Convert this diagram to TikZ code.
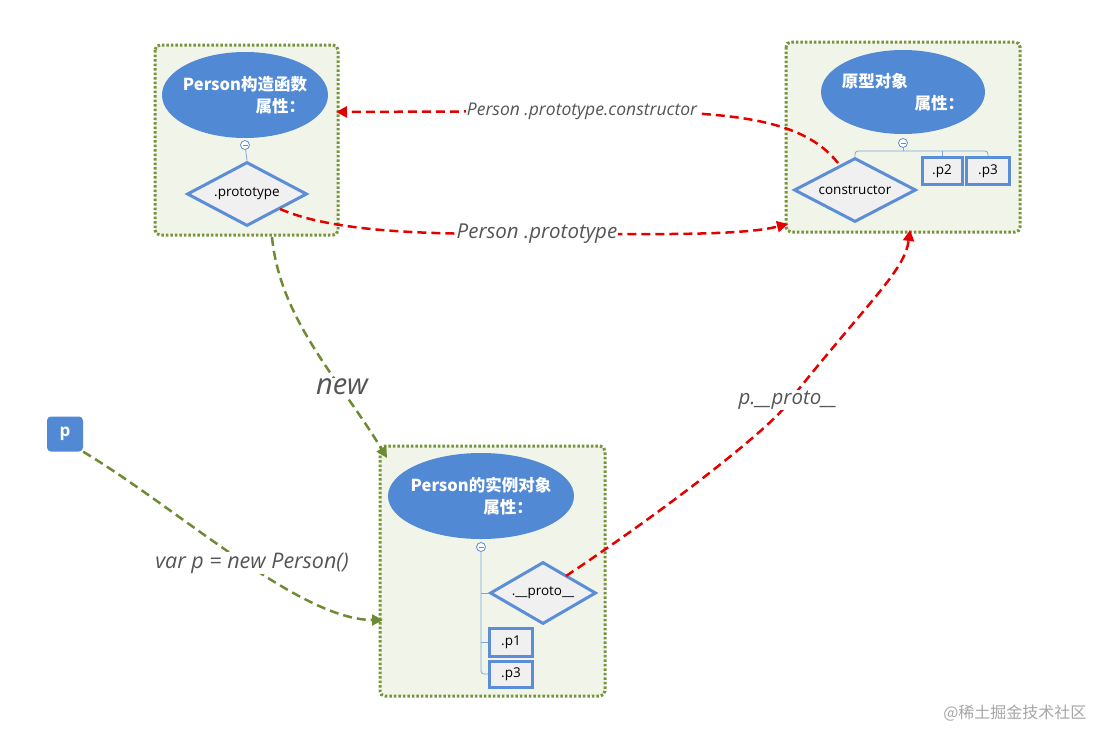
\documentclass[tikz,border=0pt]{standalone}
\usepackage{fontspec}
\setmainfont{Open Sans}
\newfontfamily\cjk{Noto Sans CJK SC}
\usetikzlibrary{shapes.geometric,arrows.meta,calc}
\definecolor{eblue}{HTML}{5189D5}
\definecolor{dblue}{HTML}{5B8ED6}
\definecolor{boxfill}{HTML}{F1F5E9}
\definecolor{olive}{HTML}{77933C}
\definecolor{arrowgreen}{HTML}{6E8A33}
\definecolor{lblgray}{HTML}{555555}
\tikzset{
 grp/.style={draw=olive,line width=3pt,dash pattern=on 2.5pt off 2pt,fill=boxfill,rounded corners=5pt},
 ell/.style={ellipse,fill=eblue,draw=none,text=white,font=\cjk\bfseries\fontsize{16.5}{22}\selectfont,align=left,inner sep=-14pt},
 dia/.style={diamond,draw=dblue,line width=3pt,fill=black!6,aspect=1.9,inner sep=1pt,font=\fontsize{13.5}{16}\selectfont},
 leaf/.style={draw=dblue,line width=3pt,fill=black!6,font=\fontsize{13.5}{16}\selectfont},
 tree/.style={draw=dblue!80,line width=0.8pt},
 minus/.style={circle,draw=dblue,fill=white,inner sep=0pt,minimum size=9pt,line width=0.8pt},
 red/.style={draw=red!90!black,line width=2.5pt,dash pattern=on 9pt off 5pt,-{Triangle[length=11pt,width=11pt]}},
 grn/.style={draw=arrowgreen,line width=2.5pt,dash pattern=on 9pt off 5pt,-{Triangle[length=11pt,width=11pt]}},
 lbl/.style={text=lblgray,font=\itshape\fontsize{17.5}{20}\selectfont,fill=white,inner sep=1pt}
}
\begin{document}
\begin{tikzpicture}[x=1pt,y=-1pt]
\useasboundingbox (0,0) rectangle (1106,744);
% boxes
\draw[grp] (155,45) rectangle (338,235);
\draw[grp] (786,42) rectangle (1020,232);
\draw[grp] (380,446) rectangle (605,696);
% box1
\node[ell,minimum width=166pt,minimum height=86pt] (e1) at (245,95) {Person构造函数\\\hspace*{4.4em}属性：};
\node[dia,minimum width=120pt,minimum height=64pt] (proto) at (247,194) {.prototype};
\node[minus] (m1) at (245,145) {};
\draw[tree] (m1) -- (proto.north);
\draw[dblue,line width=0.8pt] ($(m1)+(-2.5,0)$) -- ($(m1)+(2.5,0)$);
% box2
\node[ell,minimum width=164pt,minimum height=84pt] (e2) at (903,92) {原型对象\\\hspace*{4.4em}属性：};
\node[minus] (m2) at (903,143) {};
\draw[dblue,line width=0.8pt] ($(m2)+(-2.5,0)$) -- ($(m2)+(2.5,0)$);
\node[dia,minimum width=122pt,minimum height=64pt] (cons) at (855,190) {constructor};
\node[leaf,minimum width=40pt,minimum height=27pt] (p2) at (942,171) {.p2};
\node[leaf,minimum width=43pt,minimum height=27pt] (p3a) at (988,171) {.p3};
\draw[tree] (m2) -- (903,151);
\draw[tree,rounded corners=3pt] (cons.north) -- (855,151) -- (988,151) -- (p3a.north);
\draw[tree,rounded corners=3pt] (942,151) -- (p2.north);
% box3
\node[ell,minimum width=186pt,minimum height=86pt] (e3) at (481,496) {Person的实例对象\\\hspace*{4.4em}属性：};
\node[dia,minimum width=106pt,minimum height=62pt] (pp) at (543,593) {.\_\_proto\_\_};
\node[leaf,minimum width=43pt,minimum height=28pt] (p1) at (511,642) {.p1};
\node[leaf,minimum width=43pt,minimum height=26pt] (p3b) at (511,674) {.p3};
\draw[tree,rounded corners=3pt] (481,551) -- (481,674) -- (p3b.west);
\draw[tree,rounded corners=3pt] (481,593) -- (pp.west);
\draw[tree,rounded corners=3pt] (481,642) -- (p1.west);
\node[minus] (m3) at (481,547) {};
\draw[dblue,line width=0.8pt] ($(m3)+(-2.5,0)$) -- ($(m3)+(2.5,0)$);
% p node
\node[fill=eblue,rounded corners=4pt,minimum width=36pt,minimum height=35pt,text=white,font=\bfseries\fontsize{17}{19}\selectfont] (p) at (65,434) {p};
% arrows
\coordinate (c1) at (336,112);
\draw[red] (838,163) .. controls (800,115) and (720,111) .. (582,111) -- (c1);
\node[lbl] at (582,111) {Person .prototype.constructor};
\coordinate (c2) at (788,224);
\draw[red] (280,209) .. controls (340,235) and (450,234) .. (537,234) .. controls (650,234) and (740,236) .. (c2);
\node[lbl,font=\itshape\fontsize{20.5}{24}\selectfont] at (537,234) {Person .prototype};
\coordinate (c3) at (910,230);
\draw[red] (566,576) .. controls (680,500) and (780,420) .. (790,400) .. controls (870,300) and (905,270) .. (c3);
\node[lbl,font=\itshape\fontsize{20.5}{24}\selectfont] at (788,400) {p.\_\_proto\_\_};
\coordinate (c4) at (387,458);
\draw[grn] (272,237) .. controls (280,320) and (340,380) .. (c4);
\node[lbl,font=\itshape\fontsize{29}{32}\selectfont] at (342,387) {new};
\coordinate (c5) at (383,620);
\draw[grn] (p.south east) .. controls (180,510) and (300,620) .. (c5);
\node[lbl,font=\itshape\fontsize{21.5}{24}\selectfont] at (252,563) {var p = new Person()};
\node[text=black!35,font=\cjk\fontsize{16}{18}\selectfont,anchor=east] (wm) at (1090,713) {@稀土掘金技术社区};
\end{tikzpicture}
\end{document}
